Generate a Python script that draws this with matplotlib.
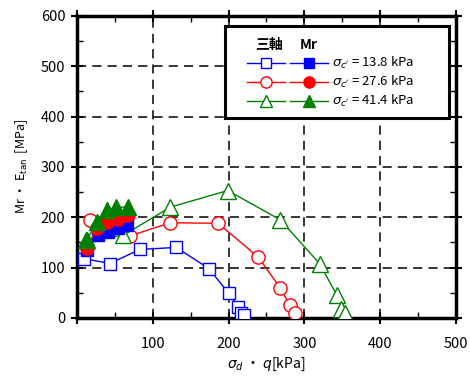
import matplotlib
matplotlib.use("Agg")
import matplotlib.pyplot as plt
from matplotlib.lines import Line2D
from matplotlib.patches import Rectangle
from matplotlib.ticker import MultipleLocator

plt.rcParams["font.family"] = ["Noto Sans CJK JP", "DejaVu Sans"]
plt.rcParams["mathtext.fontset"] = "dejavusans"

# 三軸 (open markers): sigma_d vs E_tan
tri_138_x = [9, 43, 83, 131, 174, 200, 213, 217, 220]
tri_138_y = [118, 108, 136, 140, 98, 49, 22, 9, 6]
tri_276_x = [17, 70, 123, 186, 239, 268, 281, 287]
tri_276_y = [194, 163, 189, 188, 121, 60, 25, 10]
tri_414_x = [12, 61, 123, 199, 268, 320, 343, 349, 354]
tri_414_y = [154, 164, 220, 253, 195, 108, 45, 17, 10]

# Mr (filled markers): q vs Mr
mr_138_x = [13, 28, 41, 54, 66]
mr_138_y = [134, 164, 171, 178, 184]
mr_276_x = [13, 26, 39, 54, 67]
mr_276_y = [138, 178, 191, 197, 204]
mr_414_x = [13, 26, 39, 52, 67]
mr_414_y = [154, 191, 214, 220, 220]

labels = ["13.8", "27.6", "41.4"]
colors = ["#0000ff", "#ff0000", "#008000"]
markers = ["s", "o", "^"]
msizes = [8.5, 9.5, 11]

fig = plt.figure(figsize=(4.7, 3.78), dpi=100)
ax = fig.add_axes([0.164, 0.159, 0.806, 0.799])

open_sets = [(tri_138_x, tri_138_y), (tri_276_x, tri_276_y), (tri_414_x, tri_414_y)]
fill_sets = [(mr_138_x, mr_138_y), (mr_276_x, mr_276_y), (mr_414_x, mr_414_y)]

for (x, y), c, m, s in zip(open_sets, colors, markers, msizes):
    ax.plot(x, y, color=c, lw=1.0, marker=m, ms=s, mfc="white", mec=c, mew=1.0, zorder=3)
for (x, y), c, m, s in zip(fill_sets, colors, markers, msizes):
    ax.plot(x, y, color=c, lw=1.0, marker=m, ms=s, mfc=c, mec=c, zorder=4)

ax.set_xlim(0, 500)
ax.set_ylim(0, 600)
ax.yaxis.set_major_locator(MultipleLocator(100))
ax.xaxis.set_minor_locator(MultipleLocator(50))
ax.yaxis.set_minor_locator(MultipleLocator(50))
ax.set_xticks([0, 100, 200, 300, 400, 500])
ax.set_xticklabels(["", "100", "200", "300", "400", "500"])
ax.tick_params(which="major", direction="inout", length=9, width=1.5,
               top=True, right=True, labelsize=10.5)
ax.tick_params(axis="x", which="major", pad=9)
ax.tick_params(axis="y", which="major", pad=4)
ax.tick_params(which="minor", direction="in", length=4, width=1.0,
               top=True, right=True)
ax.grid(True, which="major", color="black", ls=(0, (6, 4)), lw=1.1)
ax.set_axisbelow(True)
for sp in ax.spines.values():
    sp.set_linewidth(2.5)

ax.set_xlabel(r"$\sigma_d$ ・ $q$[kPa]", fontsize=10, labelpad=4)
ax.set_ylabel(r"Mr ・ E$_{\mathrm{tan}}$  [MPa]", fontsize=9, labelpad=8)

# legend box drawn by hand
box = Rectangle((0.39, 0.662), 0.591, 0.305, transform=ax.transAxes,
                facecolor="white", edgecolor="black", lw=2.2, zorder=10)
ax.add_patch(box)
ax.text(0.507, 0.904, "三軸", transform=ax.transAxes, ha="center", va="center",
        fontsize=10, fontweight="bold", zorder=11)
ax.text(0.612, 0.904, "Mr", transform=ax.transAxes, ha="center", va="center",
        fontsize=10, fontweight="bold", zorder=11)
rows_y = [0.845, 0.780, 0.719]
for yy, lab, c, m, s in zip(rows_y, labels, colors, markers, msizes):
    ax.add_line(Line2D([0.448, 0.549], [yy, yy], transform=ax.transAxes, color=c,
                       lw=1.0, zorder=11))
    ax.add_line(Line2D([0.498], [yy], transform=ax.transAxes, color=c, marker=m,
                       ms=s * 0.85, mfc="white", mec=c, lw=0, zorder=12))
    ax.add_line(Line2D([0.562, 0.663], [yy, yy], transform=ax.transAxes, color=c,
                       lw=1.0, zorder=11))
    ax.add_line(Line2D([0.612], [yy], transform=ax.transAxes, color=c, marker=m,
                       ms=s * 0.85, mfc=c, mec=c, lw=0, zorder=12))
    ax.text(0.672, yy, r"$\sigma_{c'}$ = " + lab + " kPa", transform=ax.transAxes,
            ha="left", va="center", fontsize=9.5, zorder=12)

fig.savefig("out.png", dpi=100)
